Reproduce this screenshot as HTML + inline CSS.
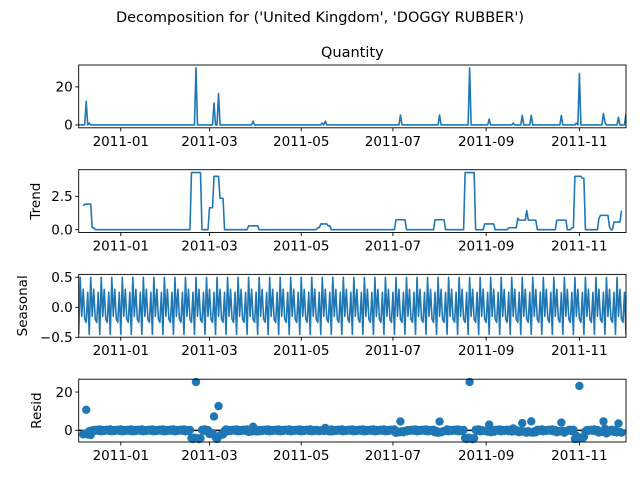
<!DOCTYPE html>
<html><head><meta charset="utf-8"><style>
body{margin:0;background:#fff;}
svg text{font-family:"DejaVu Sans","Liberation Sans",sans-serif;}
</style></head><body>
<svg id="fig" width="640" height="480" viewBox="0 0 640 480" xmlns="http://www.w3.org/2000/svg">
<rect width="640" height="480" fill="#fff"/>
<text x="320" y="22" font-size="14.5" text-anchor="middle">Decomposition for ('United Kingdom', 'DOGGY RUBBER')</text>
</svg>
<script>
// Daily series: day 0 = 2010-12-04, day 364 = 2011-12-02
const nDays = 365;
const spikeDays   = [5, 7, 78, 90, 93, 116, 162, 164, 214, 240, 260, 273, 289, 295, 301, 321, 331, 333, 349, 350, 359, 364];
const spikeValues = [12.4, 1, 30, 11.5, 16.5, 2, 1, 2, 5.2, 5.2, 30, 3, 1, 5, 5, 5, 1, 27, 6, 1.5, 4, 6];
const weeklyPattern = [-0.45, 0.5, -0.15, 0.3, -0.2, -0.25, 0.25];
const xTickLabels = ['2011-01','2011-03','2011-05','2011-07','2011-09','2011-11'];
const xTickDays = [28, 87, 148, 209, 271, 333];

const NS='http://www.w3.org/2000/svg';
const svg=document.getElementById('fig');
function mk(tag,attrs,parent){const e=document.createElementNS(NS,tag);for(const k in attrs)e.setAttribute(k,attrs[k]);(parent||svg).appendChild(e);return e;}

const observed=new Array(nDays).fill(0);
spikeDays.forEach((d,i)=>{observed[d]=spikeValues[i];});
const trend=observed.map((v,i)=>{
  if(i<3||i>nDays-4)return null;
  let s=0;for(let k=-3;k<=3;k++)s+=observed[i+k];return s/7;});
const seasonal=observed.map((v,i)=>weeklyPattern[i%7]);
const resid=observed.map((v,i)=>trend[i]===null?null:v-trend[i]-seasonal[i]);

const X0=78.7,X1=626;
const xs=d=>X0+(d/(nDays-1))*(X1-X0);

const panels=[
 {name:'quantity',top:65,data:observed,ticks:[0,20],fmt:v=>String(v),label:null,scatter:false},
 {name:'trend',top:169.7,data:trend,ticks:[0,2.5],fmt:v=>v.toFixed(1),label:'Trend',scatter:false},
 {name:'seasonal',top:274.4,data:seasonal,ticks:[-0.5,0,0.5],fmt:v=>v.toFixed(1).replace('-','−'),label:'Seasonal',scatter:false},
 {name:'resid',top:379.2,data:resid,ticks:[0,20],fmt:v=>String(v),label:'Resid',scatter:true}
];
const H=62.8;
panels.forEach(p=>{
  const g=mk('g',{});
  
  
  const vals=p.data.filter(v=>v!==null);
  let mn=Math.min(...vals),mx=Math.max(...vals);const m=(mx-mn)*0.05;mn-=m;mx+=m;
  const ys=v=>p.top+H-(v-mn)/(mx-mn)*H;
  const bot=p.top+H;
  if(p.scatter){
    const zl=mk('line',{x1:X0,x2:X1,y1:ys(0),y2:ys(0),stroke:'#000','stroke-width':1.5},g);
    
    
    p.data.forEach((v,i)=>{if(v===null)return;
      const c=mk('circle',{cx:xs(i),cy:ys(v),r:4.2,fill:'#1f77b4'},g);
      
      });
  }else{
    let d='';let pen=false;
    p.data.forEach((v,i)=>{if(v===null){pen=false;return;}d+=(pen?'L':'M')+xs(i).toFixed(2)+' '+ys(v).toFixed(2);pen=true;});
    const cp=mk('clipPath',{id:'clip-'+p.name},g);mk('rect',{x:X0,y:p.top,width:X1-X0,height:H},cp);
    const ln=mk('path',{d:d,fill:'none',stroke:'#1f77b4','stroke-width':1.6,'stroke-linejoin':'round','clip-path':'url(#clip-'+p.name+')'},g);
    
    
  }
  const fr=mk('rect',{x:X0,y:p.top,width:X1-X0,height:H,fill:'none',stroke:'#000','stroke-width':0.9},g);
  
  
  p.ticks.forEach(t=>{const y=ys(t);
    mk('line',{x1:X0-3.5,x2:X0,y1:y,y2:y,stroke:'#000','stroke-width':0.9},g);
    const tx=mk('text',{x:X0-6,y:y+4.8,'font-size':13.5,'text-anchor':'end'},g);tx.textContent=p.fmt(t);
    
    });
  xTickDays.forEach((d,i)=>{const x=xs(d);
    mk('line',{x1:x,x2:x,y1:bot,y2:bot+3.5,stroke:'#000','stroke-width':0.9},g);
    const tx=mk('text',{x:x,y:bot+18,'font-size':13.5,'text-anchor':'middle'},g);tx.textContent=xTickLabels[i];
    
    });
  if(p.label){const cy=p.top+H/2;const lx=p.name==='trend'?40:(p.name==='seasonal'?27:41);
    const tl=mk('text',{x:lx,y:cy,'font-size':13.5,'text-anchor':'middle',transform:'rotate(-90 '+lx+' '+cy+')'},g);tl.textContent=p.label;
    
    }
  else{const t=mk('text',{x:(X0+X1)/2,y:p.top-8,'font-size':14.5,'text-anchor':'middle'},g);t.textContent='Quantity';
    
    }
});
</script>
</body></html>
